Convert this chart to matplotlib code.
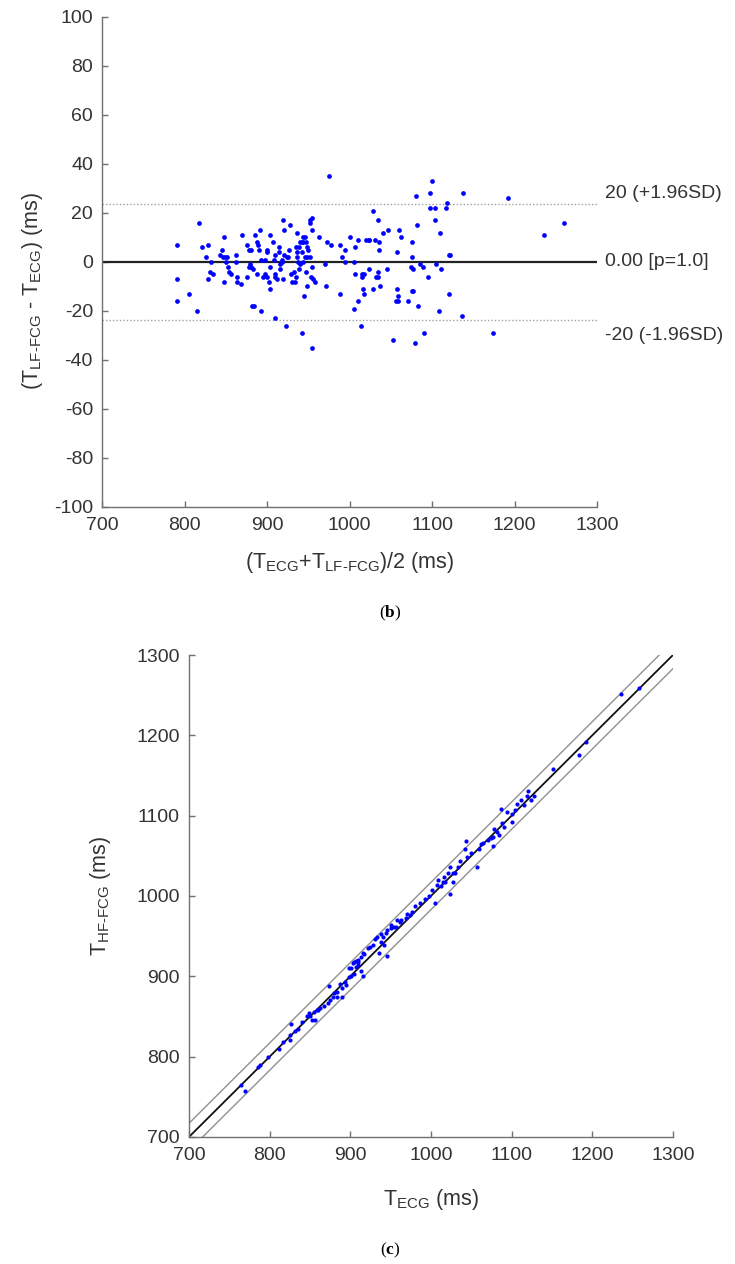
import matplotlib.pyplot as plt
import numpy as np

plt.rcParams['font.family'] = ['Liberation Sans', 'DejaVu Sans']
plt.rcParams['mathtext.fontset'] = 'custom'
plt.rcParams['mathtext.rm'] = 'Liberation Sans'
plt.rcParams['mathtext.bf'] = 'Liberation Serif:bold'
plt.rcParams['axes.unicode_minus'] = False

# panel (b): Bland-Altman, mean vs difference (ms)
ba_mean = [791, 791, 791, 805, 815, 818, 821, 829, 826, 832, 831, 835, 829, 848, 846, 843, 847, 849,
           850, 852, 853, 854, 856, 848, 863, 862, 864, 864, 869, 870, 876, 876, 878, 881, 879, 878,
           881, 883, 886, 888, 889, 890, 891, 888, 893, 895, 882, 884, 893,
           975, 904, 900, 900, 907, 904, 898, 898, 900, 902, 904, 910, 908, 910, 910, 912, 914, 914,
           916, 916, 918, 918, 920, 919, 921, 919, 910, 923, 924, 927, 926, 928, 929, 930, 934, 933,
           935, 936, 935, 936, 936, 938, 940, 940, 942, 939, 939, 944, 946, 944, 947, 948, 950, 946,
           949, 942, 943, 947, 948, 945, 952, 954, 952, 955, 952, 954, 953, 956, 958, 942, 954, 963,
           970, 971, 973, 978, 989, 988, 991, 995, 995, 1001, 1005, 1007, 1007, 1010, 1005, 1010,
           1014, 1015, 1015, 1016, 1017, 1018, 1020, 1023, 1024, 1023, 1029, 1031, 1032, 1035, 1029,
           1035, 1035, 1036, 1036, 1037, 1040, 1045, 1047, 1053, 1057, 1058, 1056, 1059, 1060, 1062,
           1059, 1071,
           1100, 1081, 1098, 1137, 1192, 1118, 1098, 1104, 1117, 1104, 1082, 1110, 1236, 1260, 1076,
           1076, 1120, 1122, 1074, 1077, 1085, 1089, 1105, 1111, 1095, 1076, 1077, 1120, 1083, 1108,
           1136, 1090, 1079, 1174]
ba_diff = [7, -7, -16, -13, -20, 16, 6, 7, 2, 0, -4, -5, -7, 10, 5, 3, 2, 2,
           0, 2, -2, -4, -5, -8, 3, 0, -6, -8, -9, 11, -6, 7, 5, 5, -1, -2,
           -2, -3, 11, 8, 7, 5, 13, -5, 1, -6, -18, -18, -20,
           35, 11, 5, 4, 8, -2, 1, -5, -6, -8, -11, 3, 1, -5, -6, -7, 6, 4,
           -1, -3, 1, 0, 3, 17, 13, -7, -23, -26, 2, 5, 2, 15, -5, -8, -8, -4,
           -6, 12, 6, 4, 2, 0, -1, 8, 8, -3, 6, 10, 10, 8, 8, 6, 5, 2,
           2, 4, 0, -4, -10, -14, 17, 18, 16, 13, 2, -2, -6, -7, -8, -29, -35, 10,
           -1, -10, 8, 7, 7, -13, 2, 0, 5, 10, 0, 6, -5, -16, -19, 9,
           -26, -5, -6, -11, -13, -5, 9, 9, 9, -3, 21, 9, -6, -6, -11,
           -4, 17, 8, 5, -10, 12, -3, 13, -32, 4, -11, -16, -16, 13, 10,
           -14, -16,
           33, 27, 28, 28, 26, 24, 22, 22, 22, 17, 15, 12, 11, 16, 8,
           2, 3, 3, -2, -3, -1, -2, -1, -3, -6, -12, -12, -13, -18, -20,
           -22, -29, -33, -29]
loa = 23.6
ba_labels = ['20 (+1.96SD)', '0.00 [p=1.0]', '-20 (-1.96SD)']

# panel (c): T_ECG vs T_HF-FCG (ms)
t_ecg = [1258, 1236, 1192, 1183, 1151, 1128, 1120, 1124, 1115, 1107, 1100, 1087, 1094, 1100, 1088,
         1082, 1078, 1077, 1071, 1065, 1077, 1043, 1042, 1059, 1057, 1045, 1036, 1033, 1024, 1021,
         1027, 1016, 1018, 1027, 1009, 1007, 1024, 1012, 997, 1005, 986, 980, 977, 974, 969, 963,
         958, 951, 957, 951, 946, 938, 933, 931, 938, 942, 936, 946, 922, 916, 913, 910, 904, 898,
         770, 765, 786, 788, 798, 811, 817, 825, 825, 826, 832, 835, 840, 846, 849, 853, 856, 855,
         859, 863, 868, 874, 875, 878, 883, 890, 884, 890, 887, 893, 898, 901, 901, 907, 910, 916,
         962, 954, 944, 940, 928, 925, 917, 907, 903,
         850, 860, 872, 880, 895, 904, 913, 909,
         1104, 1112, 1119, 1091, 1084, 1074, 1062, 1050, 1030, 1015, 1001, 992, 970]
t_hf = [1259, 1252, 1192, 1176, 1158, 1124, 1131, 1119, 1113, 1115, 1102, 1108, 1105, 1092, 1091,
        1080, 1083, 1074, 1070, 1066, 1062, 1068, 1058, 1059, 1036, 1049, 1044, 1036, 1036, 1028,
        1028, 1024, 1018, 1018, 1020, 1014, 1002, 1012, 1000, 991, 991, 987, 980, 976, 973, 970,
        970, 964, 962, 960, 958, 953, 949, 947, 943, 939, 929, 925, 935, 929, 924, 920, 918, 910,
        757, 765, 787, 789, 800, 810, 818, 827, 821, 841, 832, 835, 843, 850, 854, 846, 845, 855,
        858, 860, 863, 888, 870, 874, 874, 874, 881, 885, 891, 893, 899, 901, 910, 912, 914, 901,
        967, 962, 954, 949, 939, 937, 928, 919, 916,
        850, 858, 867, 879, 889, 903, 907, 918,
        1107, 1119, 1124, 1086, 1076, 1072, 1065, 1053, 1028, 1017, 1007, 996, 978]
band = 17

tick_color = '#333333'
spine_color = '#707070'

fig = plt.figure(figsize=(7.35, 12.64), dpi=100)

def style(ax):
    for s in ['top', 'right']:
        ax.spines[s].set_visible(False)
    for s in ['left', 'bottom']:
        ax.spines[s].set_color(spine_color)
        ax.spines[s].set_linewidth(1.0)
    ax.tick_params(direction='in', length=4, width=1, colors=spine_color,
                   labelcolor=tick_color, labelsize=14)
    ax.tick_params(axis='x', pad=7)
    ax.tick_params(axis='y', pad=6.5)

ax1 = fig.add_axes([0.1388, 0.5989, 0.6735, 0.3877])
style(ax1)
ax1.plot([700, 1300], [loa, loa], ls=(0, (1, 1.5)), color='#a0a0a0', lw=1)
ax1.plot([700, 1300], [-loa, -loa], ls=(0, (1, 1.5)), color='#a0a0a0', lw=1)
ax1.plot([700, 1300], [0, 0], color='#222222', lw=1.6)
ax1.plot(ba_mean, ba_diff, 'o', color='#0000ff', ms=3.4, mec='none')
ax1.set_xlim(700, 1300)
ax1.set_ylim(-100, 100)
ax1.set_xticks(np.arange(700, 1301, 100))
ax1.set_yticks(np.arange(-100, 101, 20))
for yy, lab in zip([28, 0, -30], ba_labels):
    ax1.text(1310, yy, lab, fontsize=14, color=tick_color, va='center', ha='left', clip_on=False)
ax1.set_xlabel(r'(T$_{\mathrm{ECG}}$+T$_{\mathrm{LF\text{-}FCG}}$)/2 (ms)', fontsize=15.5, color=tick_color)
ax1.set_ylabel(r'(T$_{\mathrm{LF\text{-}FCG}}$ - T$_{\mathrm{ECG}}$) (ms)', fontsize=15.5, color=tick_color)
ax1.xaxis.set_label_coords(0.5, -0.088)
ax1.yaxis.set_label_coords(-0.115, 0.44)
fig.text(390 / 735, 1 - 613 / 1264, r'($\mathbf{b}$)', fontsize=12.5, ha='center', va='center',
         family='Liberation Serif')

ax2 = fig.add_axes([0.2571, 0.1005, 0.6585, 0.3813])
style(ax2)
ref = np.array([700, 1300])
ax2.plot(ref, ref + band, color='#909090', lw=1)
ax2.plot(ref, ref - band, color='#909090', lw=1)
ax2.plot(ref, ref, color='#111111', lw=1.3)
ax2.plot(t_ecg, t_hf, 'o', color='#0000ff', ms=3.0, mec='none')
ax2.set_xlim(700, 1300)
ax2.set_ylim(700, 1300)
ax2.set_xticks(np.arange(700, 1301, 100))
ax2.set_yticks(np.arange(700, 1301, 100))
ax2.set_xlabel(r'T$_{\mathrm{ECG}}$ (ms)', fontsize=15.5, color=tick_color)
ax2.set_ylabel(r'T$_{\mathrm{HF\text{-}FCG}}$ (ms)', fontsize=15.5, color=tick_color)
ax2.xaxis.set_label_coords(0.5, -0.104)
ax2.yaxis.set_label_coords(-0.157, 0.5)
fig.text(390 / 735, 1 - 1250 / 1264, r'($\mathbf{c}$)', fontsize=12.5, ha='center', va='center',
         family='Liberation Serif')

fig.savefig('out.png', dpi=100)
